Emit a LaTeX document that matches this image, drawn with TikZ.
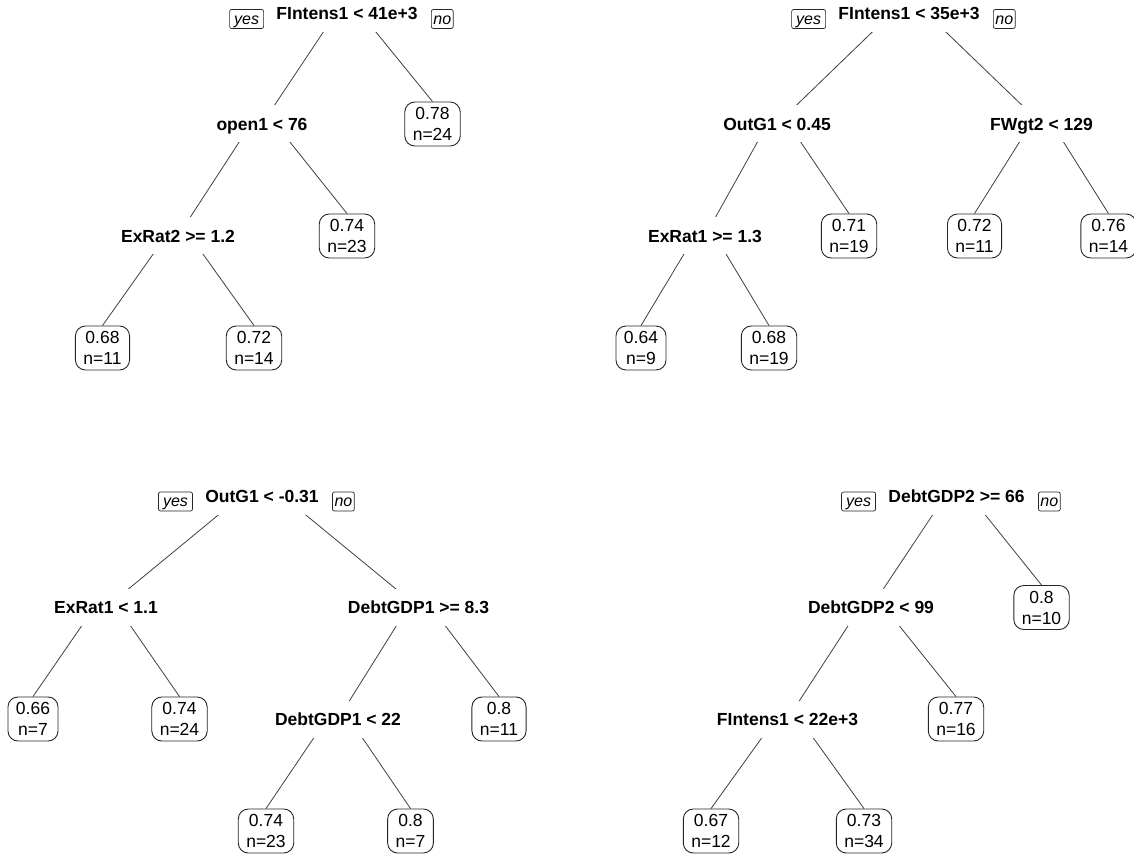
\documentclass[tikz,border=0pt]{standalone}
\usepackage{fontspec}
\setmainfont{Liberation Sans}
\pgfdeclarelayer{paper}
\pgfdeclarelayer{edges}
\pgfsetlayers{paper,edges,main}
\tikzset{
  splitlab/.style={font=\bfseries\fontsize{17.5}{21}\selectfont, fill=white, draw=white, line width=3pt, outer sep=0pt, inner xsep=2pt, inner ysep=0pt, text height=12.6pt, text depth=0pt, minimum height=34pt},
  leafbox/.style={draw=black!85, line width=0.9pt, fill=white, rounded corners=10pt, align=center, font=\fontsize{17.5}{21}\selectfont, inner xsep=8pt, inner ysep=5pt, minimum height=44pt},
  yesnobox/.style={draw=black!85, line width=0.7pt, fill=white, rounded corners=2pt, font=\itshape\fontsize{16}{18}\selectfont, inner xsep=2pt, inner ysep=2.25pt, text height=12.4pt, text depth=2.1pt},
  treeline/.style={draw=black!75, line width=0.8pt}
}
\begin{document}
\begin{tikzpicture}[x=1pt,y=-1pt]
\begin{pgfonlayer}{paper}
\fill[white] (0,0) rectangle (1134,858);
\end{pgfonlayer}
\useasboundingbox (0,0) rectangle (1134,858);

% ---------------- Tree 1 ----------------
\node[splitlab] (t1r) at (347,13.5) {FIntens1 < 41e+3};
\node[yesnobox, anchor=east, minimum width=34pt] (t1yes) at ([xshift=-10.5pt,yshift=-5.5pt]t1r.west) {yes};
\node[yesnobox, anchor=west] (t1no) at ([xshift=11.5pt,yshift=-5.5pt]t1r.east) {no};
\node[splitlab] (t1a) at (262,124) {open1 < 76};
\node[leafbox] (t1l4) at (432.5,124) {0.78\\n=24};
\node[splitlab] (t1b) at (178,236) {ExRat2 >= 1.2};
\node[leafbox] (t1l3) at (347,236) {0.74\\n=23};
\node[leafbox] (t1l1) at (102.5,348) {0.68\\n=11};
\node[leafbox] (t1l2) at (254,348) {0.72\\n=14};

% ---------------- Tree 2 ----------------
\node[splitlab] (t2r) at (909,13.5) {FIntens1 < 35e+3};
\node[yesnobox, anchor=east, minimum width=34pt] (t2yes) at ([xshift=-10.5pt,yshift=-5.5pt]t2r.west) {yes};
\node[yesnobox, anchor=west] (t2no) at ([xshift=11.5pt,yshift=-5.5pt]t2r.east) {no};
\node[splitlab] (t2a) at (777,124) {OutG1 < 0.45};
\node[splitlab] (t2c) at (1041.5,124) {FWgt2 < 129};
\node[splitlab] (t2b) at (705,236) {ExRat1 >= 1.3};
\node[leafbox] (t2l3) at (849,236) {0.71\\n=19};
\node[leafbox] (t2l4) at (974.5,236) {0.72\\n=11};
\node[leafbox] (t2l5) at (1108.5,236) {0.76\\n=14};
\node[leafbox] (t2l1) at (641,348) {0.64\\n=9};
\node[leafbox] (t2l2) at (769,348) {0.68\\n=19};

% ---------------- Tree 3 ----------------
\node[splitlab] (t3r) at (262,496) {OutG1 < -0.31};
\node[yesnobox, anchor=east, minimum width=34pt] (t3yes) at ([xshift=-10.5pt,yshift=-5.5pt]t3r.west) {yes};
\node[yesnobox, anchor=west] (t3no) at ([xshift=11.5pt,yshift=-5.5pt]t3r.east) {no};
\node[splitlab] (t3a) at (106,607.5) {ExRat1 < 1.1};
\node[splitlab] (t3b) at (418.5,607.5) {DebtGDP1 >= 8.3};
\node[leafbox] (t3l1) at (33,719) {0.66\\n=7};
\node[leafbox] (t3l2) at (179.5,719) {0.74\\n=24};
\node[splitlab] (t3c) at (338,719) {DebtGDP1 < 22};
\node[leafbox] (t3l5) at (499,719) {0.8\\n=11};
\node[leafbox] (t3l3) at (266,831) {0.74\\n=23};
\node[leafbox] (t3l4) at (410.5,831) {0.8\\n=7};

% ---------------- Tree 4 ----------------
\node[splitlab] (t4r) at (956.5,496) {DebtGDP2 >= 66};
\node[yesnobox, anchor=east, minimum width=34pt] (t4yes) at ([xshift=-10.5pt,yshift=-5.5pt]t4r.west) {yes};
\node[yesnobox, anchor=west] (t4no) at ([xshift=11.5pt,yshift=-5.5pt]t4r.east) {no};
\node[splitlab] (t4a) at (871,607.5) {DebtGDP2 < 99};
\node[leafbox] (t4l4) at (1041.5,607.5) {0.8\\n=10};
\node[splitlab] (t4b) at (787.5,719) {FIntens1 < 22e+3};
\node[leafbox] (t4l3) at (956,719) {0.77\\n=16};
\node[leafbox] (t4l1) at (711,831) {0.67\\n=12};
\node[leafbox] (t4l2) at (864,831) {0.73\\n=34};

\begin{pgfonlayer}{edges}
  % tree 1
  \draw[treeline] (t1r.north) -- (t1a.center);
  \draw[treeline] (t1r.north) -- (t1l4.north);
  \draw[treeline] (t1a.north) -- (t1b.center);
  \draw[treeline] (t1a.north) -- (t1l3.north);
  \draw[treeline] (t1b.north) -- (t1l1.north);
  \draw[treeline] (t1b.north) -- (t1l2.north);
  % tree 2
  \draw[treeline] (t2r.north) -- (t2a.center);
  \draw[treeline] (t2r.north) -- (t2c.center);
  \draw[treeline] (t2a.north) -- (t2b.center);
  \draw[treeline] (t2a.north) -- (t2l3.north);
  \draw[treeline] (t2c.north) -- (t2l4.north);
  \draw[treeline] (t2c.north) -- (t2l5.north);
  \draw[treeline] (t2b.north) -- (t2l1.north);
  \draw[treeline] (t2b.north) -- (t2l2.north);
  % tree 3
  \draw[treeline] (t3r.north) -- (t3a.center);
  \draw[treeline] (t3r.north) -- (t3b.center);
  \draw[treeline] (t3a.north) -- (t3l1.north);
  \draw[treeline] (t3a.north) -- (t3l2.north);
  \draw[treeline] (t3b.north) -- (t3c.center);
  \draw[treeline] (t3b.north) -- (t3l5.north);
  \draw[treeline] (t3c.north) -- (t3l3.north);
  \draw[treeline] (t3c.north) -- (t3l4.north);
  % tree 4
  \draw[treeline] (t4r.north) -- (t4a.center);
  \draw[treeline] (t4r.north) -- (t4l4.north);
  \draw[treeline] (t4a.north) -- (t4b.center);
  \draw[treeline] (t4a.north) -- (t4l3.north);
  \draw[treeline] (t4b.north) -- (t4l1.north);
  \draw[treeline] (t4b.north) -- (t4l2.north);
\end{pgfonlayer}
\end{tikzpicture}
\end{document}
